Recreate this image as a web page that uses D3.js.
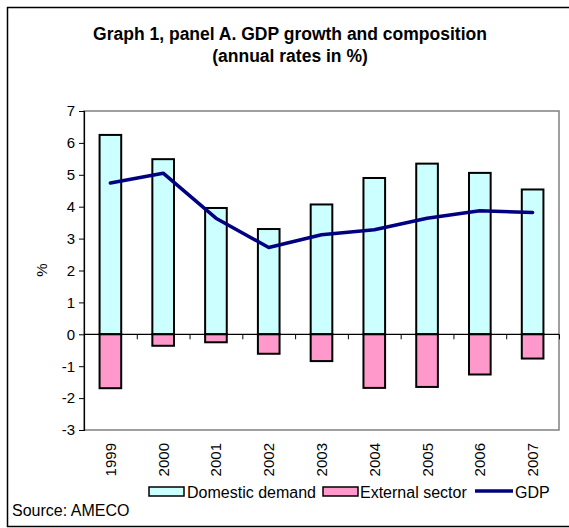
<!DOCTYPE html>
<html>
<head>
<meta charset="utf-8">
<script src="https://cdn.jsdelivr.net/npm/d3@7/dist/d3.min.js"></script>
<style>
  html, body { margin: 0; padding: 0; background: #fff; }
  svg { display: block; font-family: "Liberation Sans", Arial, sans-serif; }
</style>
</head>
<body>
<svg id="chart" width="569" height="528"></svg>
<script>
// Annual rates in %
const years = ["1999", "2000", "2001", "2002", "2003", "2004", "2005", "2006", "2007"];
const domesticDemand = [6.25, 5.49, 3.96, 3.30, 4.07, 4.90, 5.35, 5.06, 4.54];
const externalSector = [-1.69, -0.36, -0.25, -0.61, -0.84, -1.68, -1.65, -1.26, -0.76];
const gdp = [4.74, 5.05, 3.64, 2.72, 3.12, 3.28, 3.64, 3.87, 3.82];
const yTicks = [7, 6, 5, 4, 3, 2, 1, 0, -1, -2, -3];

const titleLines = ["Graph 1, panel A. GDP growth and composition", "(annual rates in %)"];
const legendLabels = ["Domestic demand", "External sector", "GDP"];
const sourceText = "Source: AMECO";

const colors = { domestic: "#CCFFFF", external: "#FF99CC", gdp: "#000080" };

const svg = d3.select("#chart");
const plot = { left: 84, right: 559, top: 111, bottom: 430 };

// Outer frame
svg.append("rect")
  .attr("x", 7.5).attr("y", 7.5)
  .attr("width", 580).attr("height", 519)
  .attr("fill", "#fff").attr("stroke", "#000").attr("stroke-width", 1.5);

// Title
svg.append("g").selectAll("text").data(titleLines).join("text")
  .attr("x", 290).attr("y", (d, i) => 40 + i * 22)
  .attr("text-anchor", "middle")
  .attr("font-size", 17.5).attr("font-weight", "bold")
  .text(d => d);

const x = d3.scaleBand().domain(years).range([plot.left, plot.right]).paddingInner(0.59).paddingOuter(0.295);
const y = d3.scaleLinear().domain([-3, 7]).range([plot.bottom, plot.top]);

// Plot area border
svg.append("rect")
  .attr("x", plot.left).attr("y", plot.top)
  .attr("width", plot.right - plot.left).attr("height", plot.bottom - plot.top)
  .attr("fill", "#fff").attr("stroke", "#808080").attr("stroke-width", 1.5);

// Bars
const bars = svg.append("g");
bars.selectAll("rect.dom").data(years).join("rect")
  .attr("class", "dom")
  .attr("x", d => x(d)).attr("width", x.bandwidth())
  .attr("y", (d, i) => y(domesticDemand[i]))
  .attr("height", (d, i) => y(0) - y(domesticDemand[i]))
  .attr("fill", colors.domestic).attr("stroke", "#000").attr("stroke-width", 2);
bars.selectAll("rect.ext").data(years).join("rect")
  .attr("class", "ext")
  .attr("x", d => x(d)).attr("width", x.bandwidth())
  .attr("y", y(0))
  .attr("height", (d, i) => y(externalSector[i]) - y(0))
  .attr("fill", colors.external).attr("stroke", "#000").attr("stroke-width", 2);

// Y axis (plain hyphen for negatives)
const yAxis = svg.append("g")
  .attr("transform", `translate(${plot.left},0)`)
  .call(d3.axisLeft(y).tickValues(yTicks).tickSize(5).tickPadding(4).tickFormat(d => String(d)));
yAxis.select(".domain").attr("stroke", "#000").attr("stroke-width", 1.2);
yAxis.selectAll(".tick line").attr("stroke", "#000");
yAxis.selectAll(".tick text").attr("font-size", 15).attr("fill", "#000")
  .attr("font-family", "'Liberation Sans', Arial, sans-serif");

// Zero line with category ticks
const xAxis = svg.append("g")
  .attr("transform", `translate(0,${y(0)})`)
  .call(d3.axisBottom(d3.scaleLinear().domain([0, years.length]).range([plot.left, plot.right]))
    .tickValues(d3.range(1, years.length + 1)).tickSize(5).tickFormat(""));
xAxis.select(".domain").attr("stroke", "#000").attr("stroke-width", 1.2)
  .attr("d", `M${plot.left},0H${plot.right}`);
xAxis.selectAll(".tick line").attr("stroke", "#000");

// Category labels below the plot, rotated
svg.append("g").selectAll("text").data(years).join("text")
  .attr("transform", d => `translate(${x(d) + x.bandwidth() / 2 + 5.5},${plot.bottom + 13}) rotate(-90)`)
  .attr("text-anchor", "end")
  .attr("font-size", 15)
  .text(d => d);

// GDP line
const line = d3.line()
  .x((d, i) => x(years[i]) + x.bandwidth() / 2)
  .y(d => y(d));
svg.append("path").datum(gdp)
  .attr("d", line)
  .attr("fill", "none").attr("stroke", colors.gdp).attr("stroke-width", 3.5)
  .attr("stroke-linejoin", "round").attr("stroke-linecap", "round");

// Y axis title
svg.append("text")
  .attr("transform", "translate(47,270) rotate(-90)")
  .attr("text-anchor", "middle").attr("font-size", 15)
  .text("%");

// Legend
const legend = svg.append("g").attr("font-size", 16);
legend.append("rect").attr("x", 149).attr("y", 487).attr("width", 35).attr("height", 9)
  .attr("fill", colors.domestic).attr("stroke", "#000").attr("stroke-width", 1.5);
legend.append("text").attr("x", 187).attr("y", 498).text(legendLabels[0]);
legend.append("rect").attr("x", 323).attr("y", 487).attr("width", 35).attr("height", 9)
  .attr("fill", colors.external).attr("stroke", "#000").attr("stroke-width", 1.5);
legend.append("text").attr("x", 360).attr("y", 498).text(legendLabels[1]);
legend.append("line").attr("x1", 475).attr("x2", 513).attr("y1", 491).attr("y2", 491)
  .attr("stroke", colors.gdp).attr("stroke-width", 3.5);
legend.append("text").attr("x", 515).attr("y", 498).text(legendLabels[2]);

// Source note
svg.append("text").attr("x", 12).attr("y", 516).attr("font-size", 16).text(sourceText);
</script>
</body>
</html>
